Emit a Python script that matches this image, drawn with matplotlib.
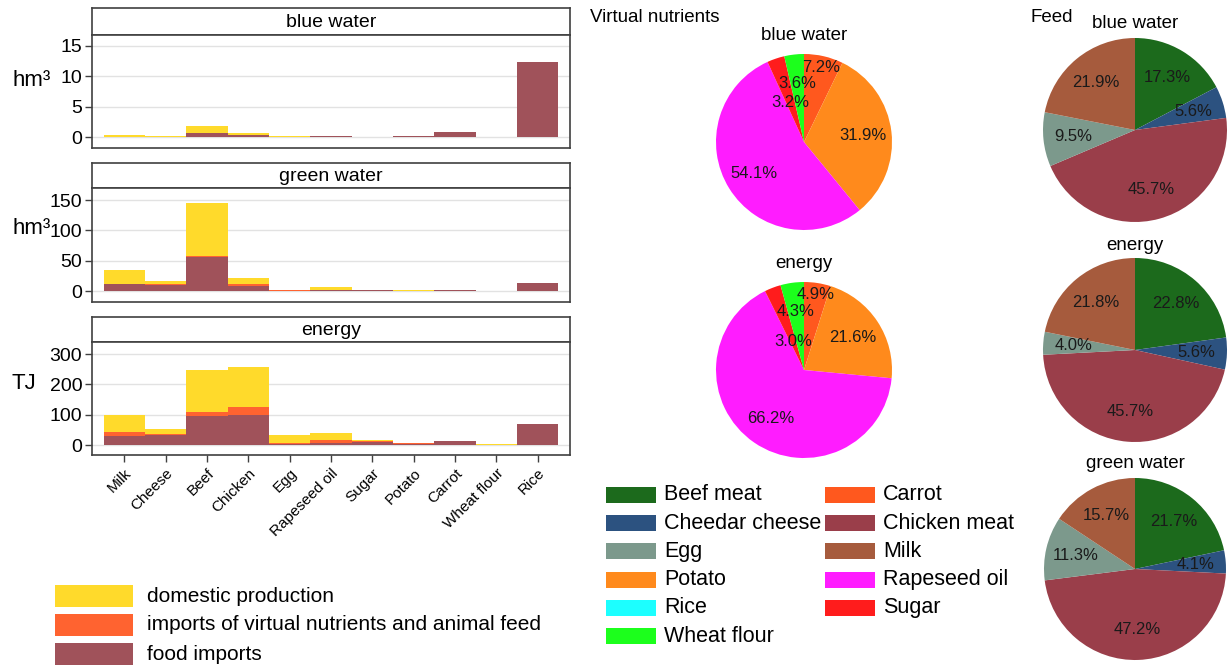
import matplotlib
matplotlib.use("Agg")
import matplotlib.pyplot as plt
from matplotlib.patches import Rectangle
import numpy as np

plt.rcParams['font.family'] = ['Liberation Sans', 'DejaVu Sans']

# ---------------- data ----------------
categories = ["Milk", "Cheese", "Beef", "Chicken", "Egg", "Rapeseed oil",
              "Sugar", "Potato", "Carrot", "Wheat flour", "Rice"]

# blue water (hm3)
blue_food = [0.02, 0.05, 0.68, 0.28, 0.01, 0.18, 0.05, 0.12, 0.85, 0.0, 12.4]
blue_virt = [0.0, 0.0, 0.02, 0.05, 0.02, 0.02, 0.0, 0.05, 0.02, 0.0, 0.0]
blue_dom = [0.28, 0.07, 1.1, 0.4, 0.08, 0.02, 0.02, 0.05, 0.03, 0.02, 0.0]

# green water (hm3)
green_food = [11, 10, 57, 9, 0.5, 1, 1.5, 0.3, 1, 0, 13]
green_virt = [1, 1, 1, 3, 1.5, 1, 0.3, 0.2, 0, 0, 0]
green_dom = [22, 5, 88, 9, 0.5, 4, 0.2, 0.5, 0.5, 0.3, 0]

# energy (TJ)
energy_food = [30, 34, 97, 100, 4, 7, 11, 2, 12, 0, 69]
energy_virt = [12, 3, 13, 24, 2, 8, 1, 3, 0, 0, 0]
energy_dom = [56, 16, 138, 134, 26, 23, 4, 2, 1, 3, 0]

bar_series = ["domestic production", "imports of virtual nutrients and animal feed", "food imports"]

pie_items = ["Beef meat", "Carrot", "Cheedar cheese", "Chicken meat", "Egg", "Milk",
             "Potato", "Rapeseed oil", "Rice", "Sugar", "Wheat flour"]
vn_blue = [0, 7.2, 0, 0, 0, 0, 31.9, 54.1, 0, 3.2, 3.6]
vn_energy = [0, 4.9, 0, 0, 0, 0, 21.6, 66.2, 0, 3.0, 4.3]
feed_blue = [17.3, 0, 5.6, 45.7, 9.5, 21.9, 0, 0, 0, 0, 0]
feed_energy = [22.8, 0, 5.6, 45.7, 4.0, 21.8, 0, 0, 0, 0, 0]
feed_green = [21.7, 0, 4.1, 47.2, 11.3, 15.7, 0, 0, 0, 0, 0]

# ---------------- styles ----------------
C_DOM = "#FFDA2B"
C_VIRT = "#FF6330"
C_FOOD = "#A0525A"
pie_colors = {
    "Beef meat": "#1C6A1C", "Carrot": "#FF581E", "Cheedar cheese": "#2C5280",
    "Chicken meat": "#9A3E4A", "Egg": "#7C998C", "Milk": "#A65B3D",
    "Potato": "#FF8A1C", "Rapeseed oil": "#FF1CFF", "Rice": "#1CFFFF",
    "Sugar": "#FF1C1C", "Wheat flour": "#1CFF1C",
}

W, H = 1231, 665
fig = plt.figure(figsize=(W / 100, H / 100), dpi=100)


def px_axes(x0, y0, x1, y1):
    return fig.add_axes([x0 / W, 1 - y1 / H, (x1 - x0) / W, (y1 - y0) / H])


SPINE = "#404040"

panels = [
    ("blue water", blue_food, blue_virt, blue_dom, (-1.8, 16.8), [0, 5, 10, 15], 8, 35, 148, "hm\u00b3", 80),
    ("green water", green_food, green_virt, green_dom, (-18, 170), [0, 50, 100, 150], 163, 188, 302, "hm\u00b3", 228),
    ("energy", energy_food, energy_virt, energy_dom, (-33, 340), [0, 100, 200, 300], 317, 342, 455, "TJ", 383),
]

x = np.arange(len(categories))
for i, (title, food, virt, dom, ylim, yt, hy, ty, by, ylab, ylab_y) in enumerate(panels):
    # header
    hax = px_axes(92, hy, 570, ty)
    hax.set_xticks([]); hax.set_yticks([])
    for s in hax.spines.values():
        s.set_color(SPINE); s.set_linewidth(1.2)
    hax.text(0.5, 0.45, title, ha="center", va="center", fontsize=14, transform=hax.transAxes)

    ax = px_axes(92, ty, 570, by)
    food = np.array(food, float); virt = np.array(virt, float); dom = np.array(dom, float)
    ax.bar(x, food, width=1.0, color=C_FOOD, linewidth=0, zorder=3)
    ax.bar(x, virt, bottom=food, width=1.0, color=C_VIRT, linewidth=0, zorder=3)
    ax.bar(x, dom, bottom=food + virt, width=1.0, color=C_DOM, linewidth=0, zorder=3)
    ax.set_xlim(-0.78, 10.78)
    ax.set_ylim(*ylim)
    ax.set_yticks(yt)
    ax.tick_params(axis="y", labelsize=14, length=5, width=1, color=SPINE, pad=2)
    ax.grid(axis="y", color="#e2e2e2", linewidth=1, zorder=0)
    for s in ax.spines.values():
        s.set_color(SPINE); s.set_linewidth(1.2)
    if i < 2:
        ax.set_xticks([])
    else:
        ax.set_xticks(x)
        ax.set_xticklabels(categories, rotation=45, ha="right", rotation_mode="anchor", fontsize=11)
        ax.tick_params(axis="x", length=5, width=1, color=SPINE, pad=3)
    fig.text(12 / W, 1 - ylab_y / H, ylab, fontsize=16, ha="left", va="center")

# bottom-left legend
for j, (lab, col) in enumerate(zip(bar_series, [C_DOM, C_VIRT, C_FOOD])):
    cy = 596 + 29 * j
    fig.add_artist(Rectangle((55 / W, 1 - (cy + 11) / H), 78 / W, 22 / H,
                             transform=fig.transFigure, color=col, linewidth=0))
    fig.text(147 / W, 1 - cy / H, lab, fontsize=15, ha="left", va="center")


def draw_pie(cx, cy, r, values, title, label_r, title_off):
    ax = px_axes(cx - r, cy - r, cx + r, cy + r)
    vals = np.array(values, float)
    cols = [pie_colors[k] for k in pie_items]
    ax.pie(vals, colors=cols, startangle=90, counterclock=False, radius=1.0,
           wedgeprops=dict(linewidth=0))
    ax.set_xlim(-1, 1); ax.set_ylim(-1, 1)
    total = vals.sum()
    cum = 0.0
    for name, v in zip(pie_items, vals):
        if v <= 0:
            continue
        mid = 90 - (cum + v / 2) / total * 360
        cum += v
        rr = label_r.get(name, 0.67)
        ax.text(rr * np.cos(np.radians(mid)), rr * np.sin(np.radians(mid)), f"{v:.1f}%",
                ha="center", va="center", fontsize=12, color="#1a1a1a")
    fig.text(cx / W, 1 - (cy - r - title_off) / H, title, fontsize=13.5, ha="center", va="center")


draw_pie(804, 142, 88, vn_blue, "blue water", {"Carrot": 0.87, "Sugar": 0.47, "Wheat flour": 0.67}, 18)
draw_pie(804, 370, 88, vn_energy, "energy", {"Carrot": 0.87, "Sugar": 0.35, "Wheat flour": 0.67}, 18)
draw_pie(1135, 130, 92, feed_blue, "blue water", {}, 14)
draw_pie(1135, 350, 92, feed_energy, "energy", {}, 13)
draw_pie(1135, 569, 91, feed_green, "green water", {}, 14)

fig.text(590 / W, 1 - 18 / H, "Virtual nutrients", fontsize=13.5, ha="left", va="center")
fig.text(1031 / W, 1 - 17 / H, "Feed", fontsize=13.5, ha="left", va="center")

# pie legend (row-major, two columns)
for k, name in enumerate(pie_items):
    col = k % 2
    row = k // 2
    px0 = 606 if col == 0 else 825
    tx = 664 if col == 0 else 883
    cyy = 495 + 28.2 * row
    fig.add_artist(Rectangle((px0 / W, 1 - (cyy + 8) / H), 50 / W, 16 / H,
                             transform=fig.transFigure, color=pie_colors[name], linewidth=0))
    fig.text(tx / W, 1 - cyy / H, name, fontsize=15.5, ha="left", va="center")

fig.savefig("out.png", dpi=100)
